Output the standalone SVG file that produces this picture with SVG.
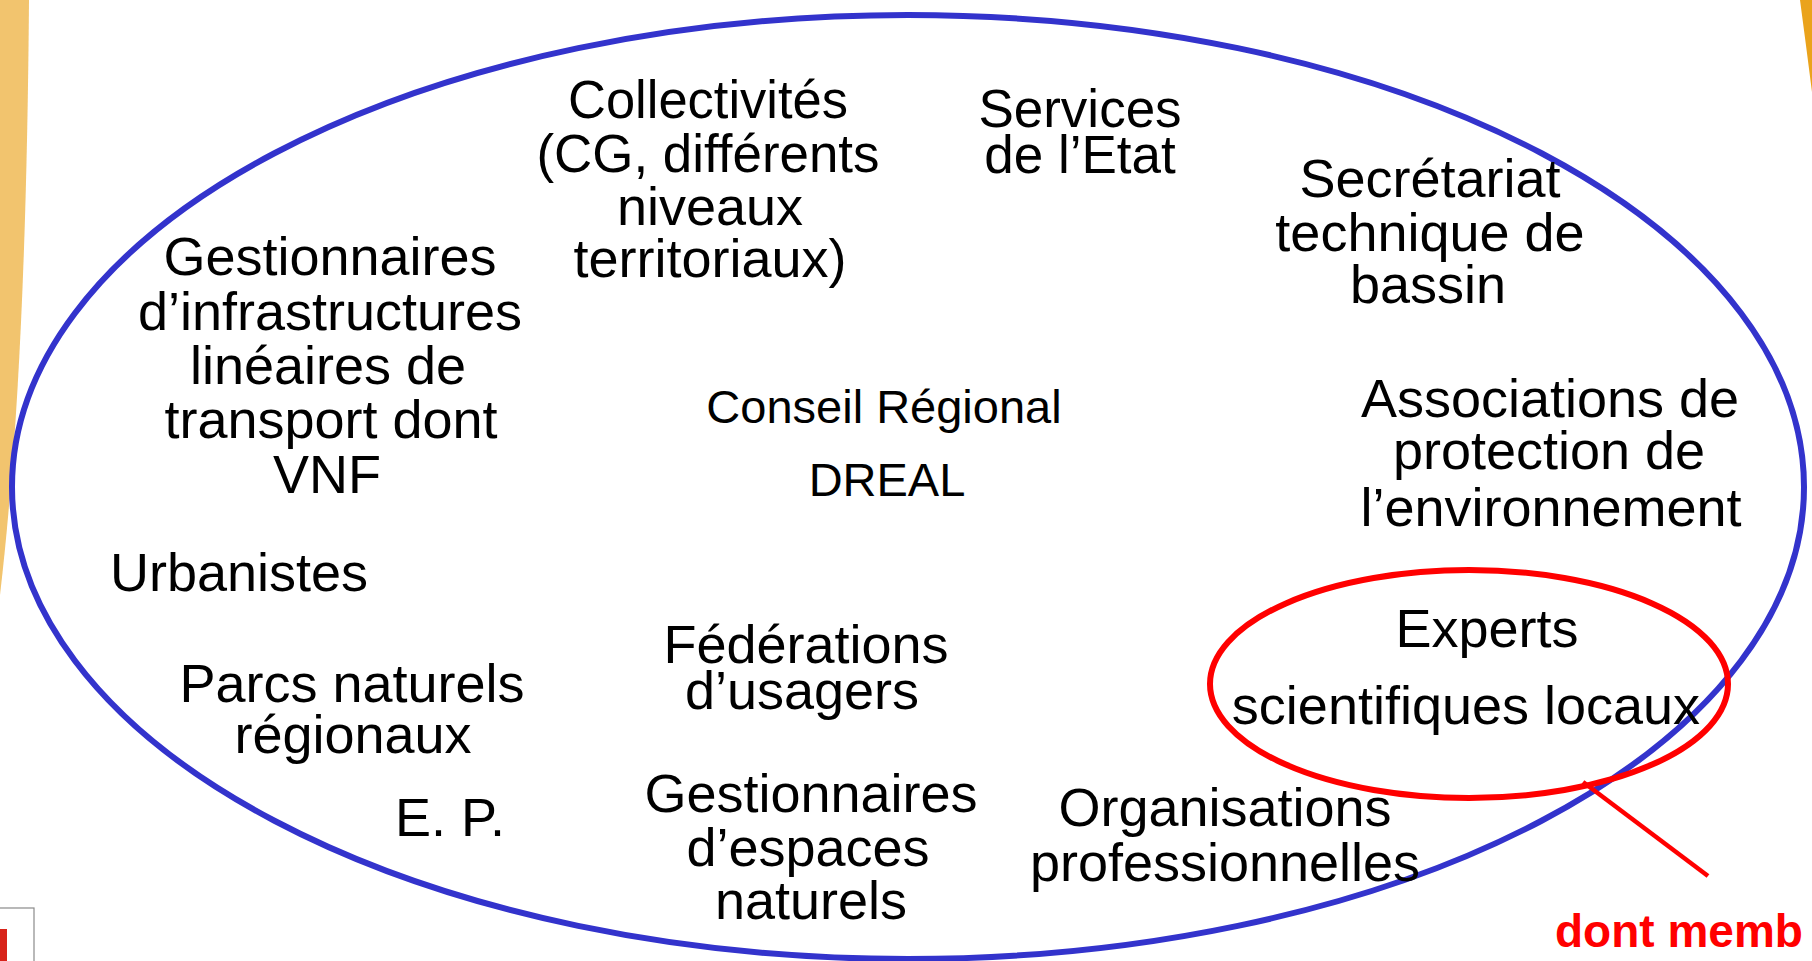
<svg xmlns="http://www.w3.org/2000/svg" width="1812" height="961" viewBox="0 0 1812 961">
<style>
.t{font-family:"Liberation Sans",Arial,sans-serif;font-size:54px;fill:#000;text-anchor:middle}
.s{font-size:47px}
.red{font-family:"Liberation Sans",Arial,sans-serif;font-size:46px;font-weight:bold;fill:#FF0000}
</style>
<rect width="1812" height="961" fill="#fff"/>
<g id="decor">
<path d="M0,0 H29 C27,250 18,440 0,595 Z" fill="#F2C46E"/>
<path d="M1800,0 Q1806,45 1812,92 V0 Z" fill="#EAA31C"/>
<rect x="-10" y="908" width="44" height="70" fill="#fff" stroke="#8a8a8a" stroke-width="1.2"/>
<rect x="0" y="929" width="7" height="40" fill="#D8231A"/>
</g>
<g id="outer-ellipse">
<ellipse cx="908" cy="487" rx="896" ry="472" fill="none" stroke="#3333CC" stroke-width="6"/>
</g>
<g id="n-collectivites">
<text class="t" x="708" y="118" textLength="280" lengthAdjust="spacingAndGlyphs">Collectivités</text>
<text class="t" x="708" y="172" textLength="343" lengthAdjust="spacingAndGlyphs">(CG, différents</text>
<text class="t" x="710" y="225">niveaux</text>
<text class="t" x="710" y="277">territoriaux)</text>
</g>
<g id="n-services">
<text class="t" x="1080" y="127" style="font-size:53px">Services</text>
<text class="t" x="1080" y="173" style="font-size:53px">de l’Etat</text>
</g>
<g id="n-secretariat">
<text class="t" x="1430" y="197">Secrétariat</text>
<text class="t" x="1430" y="251">technique de</text>
<text class="t" x="1428" y="303">bassin</text>
</g>
<g id="n-gestionnaires-infra">
<text class="t" x="330" y="275">Gestionnaires</text>
<text class="t" x="330" y="330">d’infrastructures</text>
<text class="t" x="328" y="384">linéaires de</text>
<text class="t" x="331" y="438">transport dont</text>
<text class="t" x="327" y="493">VNF</text>
</g>
<g id="n-conseil">
<text class="t s" x="884" y="423">Conseil Régional</text>
</g>
<g id="n-dreal">
<text class="t s" x="887" y="496">DREAL</text>
</g>
<g id="n-associations">
<text class="t" x="1550" y="417">Associations de</text>
<text class="t" x="1549" y="469">protection de</text>
<text class="t" x="1551" y="526">l’environnement</text>
</g>
<g id="n-urbanistes">
<text class="t" x="239" y="591">Urbanistes</text>
</g>
<g id="n-parcs">
<text class="t" x="352" y="702">Parcs naturels</text>
<text class="t" x="353" y="753">régionaux</text>
</g>
<g id="n-ep">
<text class="t" x="450" y="836">E. P.</text>
</g>
<g id="n-federations">
<text class="t" x="806" y="663">Fédérations</text>
<text class="t" x="802" y="709">d’usagers</text>
</g>
<g id="n-gestionnaires-espaces">
<text class="t" x="811" y="812">Gestionnaires</text>
<text class="t" x="808" y="866">d’espaces</text>
<text class="t" x="811" y="919">naturels</text>
</g>
<g id="n-organisations">
<text class="t" x="1225" y="826">Organisations</text>
<text class="t" x="1225" y="881">professionnelles</text>
</g>
<g id="n-experts">
<ellipse cx="1469" cy="684" rx="259" ry="114" fill="none" stroke="#FF0000" stroke-width="6"/>
<text class="t" x="1487" y="647">Experts</text>
<text class="t" x="1466" y="724">scientifiques locaux</text>
</g>
<g id="connectors">
<line x1="1583" y1="782" x2="1708" y2="876" stroke="#FF0000" stroke-width="4.5"/>
</g>
<g id="n-note">
<text class="red" x="1555" y="947">dont memb</text>
</g>
</svg>
